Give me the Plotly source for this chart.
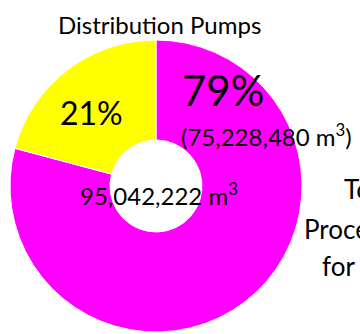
import plotly.graph_objects as go

labels = ["Distribution Pumps", "Other"]
values = [75228480, 19813742]
colors = ["#FF00FF", "#FFFF00"]
pct_labels = ["79%", "21%"]
vol_label = "(75,228,480 m<sup>3</sup>)"
total_label = "95,042,222 m<sup>3</sup>"
title_text = "Distribution Pumps"
side_lines = ["Total", "Processed", "for 2018"]

W, H = 360, 334
FONT = "Lato"

def px(x):
    return x / W

def py(y):
    return 1 - y / H

cx, cy, r = 156, 186, 146

fig = go.Figure(go.Pie(
    labels=labels,
    values=values,
    marker=dict(colors=colors, line=dict(color="white", width=1)),
    hole=0.315,
    sort=False,
    direction="clockwise",
    rotation=0,
    textinfo="none",
    hoverinfo="label+percent",
    showlegend=False,
    domain=dict(x=[px(cx - r), px(cx + r)], y=[py(cy + r), py(cy - r)]),
))

ann = []
def add(text, x, y, size, xanchor="left"):
    ann.append(dict(text=text, x=px(x), y=py(y), xref="paper", yref="paper",
                    xanchor=xanchor, yanchor="middle", showarrow=False,
                    font=dict(family=FONT, size=size, color="black")))

add(title_text, 159.5, 25, 24, "center")
add(pct_labels[0], 180, 90, 42)
add(vol_label, 179, 135, 24)
add(pct_labels[1], 58, 112, 32)
add(total_label, 78, 194, 24)
add(side_lines[0], 342, 189, 26)
add(side_lines[1], 302, 229, 26)
add(side_lines[2], 320, 266, 26)

fig.update_layout(
    width=W, height=H,
    margin=dict(l=0, r=0, t=0, b=0),
    paper_bgcolor="white",
    plot_bgcolor="white",
    annotations=ann,
)

fig.write_html("out.html")
